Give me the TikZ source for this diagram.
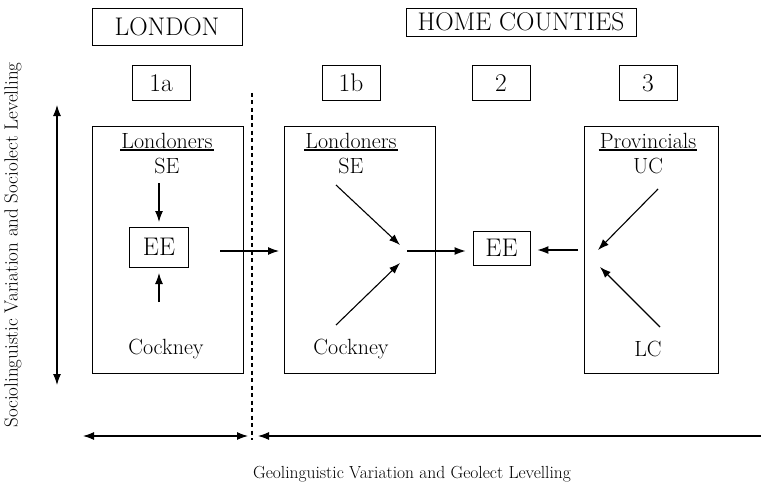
\documentclass[tikz,border=0pt]{standalone}
\usepackage{tikz}
\usetikzlibrary{arrows.meta}
\def\big{\fontsize{25.5}{29}\selectfont}
\def\mid{\fontsize{22}{26}\selectfont}
\def\darr{\draw[arr]}
\tikzset{
  arr/.style={line width=1.1pt,-{Latex[length=11pt,width=8pt]}},
  tag/.style={draw,line width=0.9pt,inner sep=0pt,font=\big},
  region/.style={draw,line width=0.9pt,inner sep=0pt,minimum height=247pt},
  word/.style={inner sep=1pt,font=\mid},
  ul/.style={line width=1.4pt}
}

\begin{document}
\begin{tikzpicture}[x=1pt,y=-1pt]
  \useasboundingbox (0,0) rectangle (761,487);
  % headings
  \node[tag,minimum width=150pt,minimum height=37pt] (london) at (167,26.5) {LONDON};
  \node[tag,minimum width=230pt,minimum height=28pt] (home) at (521,22) {HOME COUNTIES};
  \node[tag,minimum width=58pt,minimum height=35pt] (t1a) at (161,83) {1a};
  \node[tag,minimum width=58pt,minimum height=35pt] (t1b) at (351,83) {1b};
  \node[tag,minimum width=58pt,minimum height=35pt] (t2) at (501,83) {2};
  \node[tag,minimum width=58pt,minimum height=35pt] (t3) at (648,83) {3};
  % regions
  \node[region,minimum width=151pt] (r1a) at (167.5,249.5) {};
  \node[region,minimum width=151pt] (r1b) at (359.5,249.5) {};
  \node[region,minimum width=134pt] (r3) at (651,249.5) {};
  % region 1a
  \node[word] (lon1) at (167,141) {Londoners};
  \draw[ul] (lon1.south west) -- (lon1.south east);
  \node[word] (se1) at (167,166) {SE};
  \node[tag,minimum width=59pt,minimum height=40pt] (ee1) at (159,247) {EE};
  \node[word] (cock1) at (166,349) {Cockney};
  \darr (ee1.north |- 0,183) -- (ee1.north |- 0,222);
  \darr (ee1.south |- 0,302) -- (ee1.south |- 0,273);
  % region 1b
  \node[word] (lon2) at (351,141) {Londoners};
  \draw[ul] (lon2.south west) -- (lon2.south east);
  \node[word] (se2) at (351,166) {SE};
  \node[word] (cock2) at (351,349) {Cockney};
  \coordinate (j2a) at (400,245);
  \coordinate (j2b) at (400,263);
  \darr (336,185) -- (j2a);
  \darr (336,325) -- (j2b);
  % centre
  \node[tag,minimum width=57pt,minimum height=34pt] (ee2) at (501.5,248) {EE};
  \coordinate (o1) at (220,251);
  \coordinate (i1) at (279,251);
  \darr (o1) -- (i1);
  \darr (407,251) -- ([xshift=-7pt]ee2.west |- 0,251);
  \darr (578,250) -- ([xshift=7pt]ee2.east |- 0,250);
  % region 3
  \node[word] (prov) at (648,141) {Provincials};
  \draw[ul] (prov.south west) -- (prov.south east);
  \node[word] (uc) at (648,166) {UC};
  \node[word] (lc) at (648,349) {LC};
  \coordinate (j3a) at (598,250);
  \coordinate (j3b) at (600,267);
  \darr (658,189) -- (j3a);
  \darr (660,327) -- (j3b);
  % border and axes
  \coordinate (b1) at (252,93);
  \coordinate (b2) at (252,440);
  \draw[line width=2.6pt,dash pattern=on 4pt off 3.5pt] (b1) -- (b2);
  \coordinate (v1) at (57,105);
  \coordinate (v2) at (57,385);
  \draw[line width=1.1pt,{Latex[length=11pt,width=8pt]}-{Latex[length=11pt,width=8pt]}] (v1) -- (v2);
  \coordinate (h1) at (83,436);
  \coordinate (h2) at (248,436);
  \coordinate (h3) at (258,436);
  \coordinate (h4) at (761,436);
  \draw[line width=1.1pt,{Latex[length=11pt,width=8pt]}-{Latex[length=11pt,width=8pt]}] (h1) -- (h2);
  \draw[line width=1.1pt,{Latex[length=11pt,width=8pt]}-] (h3) -- (h4);
  \node[rotate=90,font=\fontsize{19}{22}\selectfont] (socio) at (13,245) {Sociolinguistic Variation and Sociolect Levelling};
  \node[font=\fontsize{17.5}{21}\selectfont] (geo) at (412,474) {Geolinguistic Variation and Geolect Levelling};
\end{tikzpicture}
\end{document}
